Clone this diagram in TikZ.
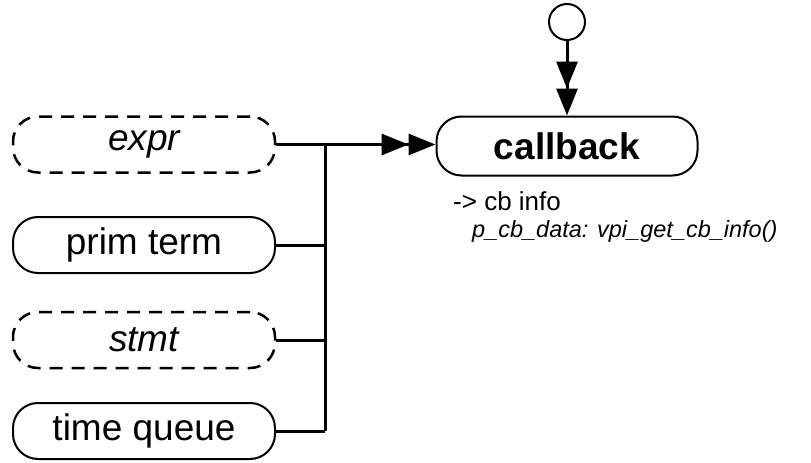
\documentclass[tikz,border=0pt]{standalone}
\usepackage{fontspec}
\setmainfont{Liberation Sans}
\usetikzlibrary{arrows.meta}
\tikzset{
  pill/.style={draw, line width=2pt, rounded corners=25pt, minimum width=262pt, minimum height=56pt, inner sep=0pt, font=\fontsize{37}{40}\selectfont},
  dpill/.style={pill, dashed, dash pattern=on 13pt off 9pt, line width=2.5pt, font=\fontsize{37}{40}\selectfont\itshape},
  conn/.style={line width=3pt},
  dbl/.style={conn, -{Triangle[length=27pt,width=21pt,sep=0pt]Triangle[length=27pt,width=21pt]}},
  note/.style={anchor=base west, inner sep=0pt},
}
\begin{document}
\begin{tikzpicture}[x=1pt,y=-1pt]
\useasboundingbox (0,0) rectangle (811,463);
\node[dpill] (expr) at (144,144.5) {expr};
\node[pill] (prim) at (144,245) {prim term};
\node[dpill] (stmt) at (144,340) {stmt};
\node[pill] (tq) at (144,431) {time queue};
\node[pill, minimum width=261pt, minimum height=59pt, font=\fontsize{37}{40}\selectfont\bfseries] (cb) at (567,146) {callback};
\node[draw, circle, line width=2pt, minimum size=36pt, inner sep=0pt] (start) at (567,22) {};
\coordinate (bus) at (325,0);
\draw[dbl] (expr.east) -- (expr.east -| cb.west);
\draw[dbl] (start.south) -- (cb.north);
\draw[conn] (expr.east -| bus) -- (tq.east -| bus);
\draw[conn] (prim.east) -- (prim.east -| bus);
\draw[conn] (stmt.east) -- (stmt.east -| bus);
\draw[conn] (tq.east) -- (tq.east -| bus);
\node[note, font=\fontsize{26}{30}\selectfont] (info) at (453,210) {-> cb info};
\node[note, font=\fontsize{23.5}{28}\selectfont\itshape] (data) at (472,237) {p\_cb\_data: vpi\_get\_cb\_info()};
\end{tikzpicture}
\end{document}
